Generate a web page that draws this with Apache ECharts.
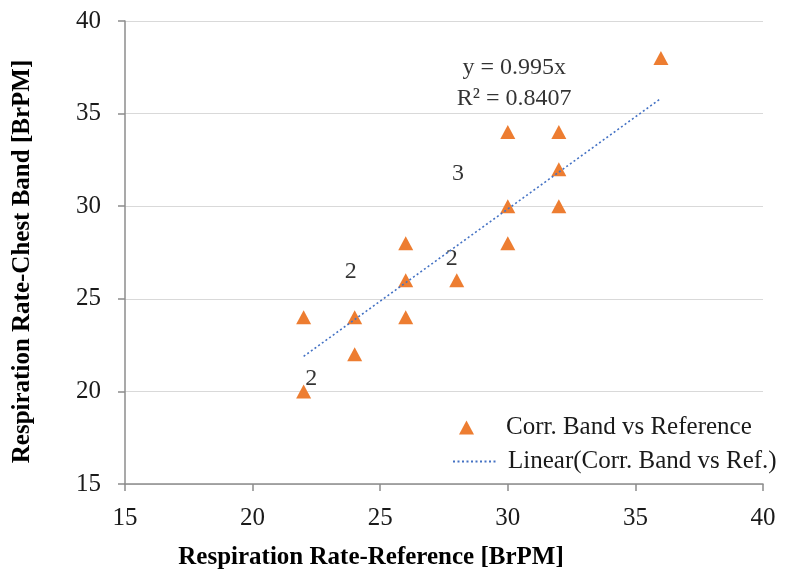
<!DOCTYPE html>
<html><head><meta charset="utf-8">
<script src="https://cdn.jsdelivr.net/npm/echarts@6/dist/echarts.min.js"></script>
<style>html,body{margin:0;padding:0;background:#fff}#c{width:786px;height:574px}</style>
</head><body><div id="c"></div>
<script>
// Data
const refRate   = [22, 22, 24, 24, 26, 26, 26, 28, 30, 30, 30, 32, 32, 32, 36];
const bandRate  = [24, 20, 24, 22, 28, 26, 24, 26, 34, 30, 28, 34, 32, 30, 38];
const trendX    = [22, 36];
const trendY    = [21.89, 35.82];
const xTicks    = [15, 20, 25, 30, 35, 40];
const yTicks    = [15, 20, 25, 30, 35, 40];
// annotation text anchored in data coordinates
const noteX     = [22.3, 23.85, 27.8, 28.05, 30.25];
const noteY     = [20.7, 26.45, 27.15, 31.75, 36.65];
const noteText  = ['2', '2', '2', '3', 'y = 0.995x\nR² = 0.8407'];

const FONT = '"Liberation Serif", "DejaVu Serif", serif';
const chart = echarts.init(document.getElementById('c'), null, {renderer: 'canvas'});
const pts = refRate.map((x, i) => [x, bandRate[i]]);
const trend = trendX.map((x, i) => [x, trendY[i]]);
const notes = noteX.map((x, i) => [x, noteY[i], noteText[i]]);

const SCATTER_NAME = 'Corr. Band vs Reference';
const TREND_NAME = 'Linear(Corr. Band vs Ref.)';

chart.setOption({
  animation: false,
  textStyle: {fontFamily: FONT},
  grid: {left: 125, right: 23, top: 21, bottom: 90, containLabel: false, outerBoundsMode: 'none'},
  xAxis: {
    type: 'value', min: xTicks[0], max: xTicks[xTicks.length - 1], interval: 5,
    name: 'Respiration Rate-Reference [BrPM]', nameLocation: 'middle', nameGap: 61,
    nameTextStyle: {fontFamily: FONT, fontSize: 25, fontWeight: 'bold', color: '#000', padding: [0, 146, 0, 0]},
    axisLine: {show: true, onZero: false, lineStyle: {color: '#8c8c8c', width: 1.5}},
    axisTick: {show: true, length: 7, lineStyle: {color: '#8c8c8c', width: 1.5}},
    axisLabel: {fontFamily: FONT, fontSize: 25, color: '#1a1a1a', margin: 22},
    splitLine: {show: false}
  },
  yAxis: {
    type: 'value', min: yTicks[0], max: yTicks[yTicks.length - 1], interval: 5,
    name: 'Respiration Rate-Chest Band [BrPM]', nameLocation: 'middle', nameGap: 90,
    nameTextStyle: {fontFamily: FONT, fontSize: 25, fontWeight: 'bold', color: '#000', padding: [0, 18, 0, 0]},
    axisLine: {show: true, onZero: false, lineStyle: {color: '#8c8c8c', width: 1.5}},
    axisTick: {show: true, length: 7, lineStyle: {color: '#8c8c8c', width: 1.5}},
    axisLabel: {fontFamily: FONT, fontSize: 25, color: '#1a1a1a', margin: 24},
    splitLine: {show: true, lineStyle: {color: '#d9d9d9', width: 1.2}}
  },
  legend: [
    {
      left: 454, top: 410, itemWidth: 15, itemHeight: 14,
      textStyle: {fontFamily: FONT, fontSize: 25, color: '#1a1a1a', padding: [0, 0, 0, 27]},
      data: [{name: SCATTER_NAME, icon: 'triangle'}]
    },
    {
      left: 447, top: 444, itemWidth: 44, itemHeight: 14,
      itemStyle: {opacity: 0},
      textStyle: {fontFamily: FONT, fontSize: 25, color: '#1a1a1a', padding: [0, 0, 0, 6]},
      data: [{name: TREND_NAME}]
    }
  ],
  series: [
    {
      name: TREND_NAME, type: 'line', data: trend, symbol: 'none', showSymbol: false,
      lineStyle: {color: '#4472C4', width: 1.6, type: [2, 2.5]}, z: 3
    },
    {
      name: SCATTER_NAME, type: 'scatter', data: pts,
      symbol: 'triangle', symbolSize: [15, 14],
      itemStyle: {color: '#ED7D31', opacity: 1}, z: 2
    },
    {
      name: 'notes', type: 'scatter', data: notes, symbolSize: 0, silent: true,
      label: {show: true, position: 'inside', formatter: p => p.data[2],
        fontFamily: FONT, fontSize: 24, color: '#000', lineHeight: 31, align: 'center'}
    }
  ]
});
</script></body></html>
